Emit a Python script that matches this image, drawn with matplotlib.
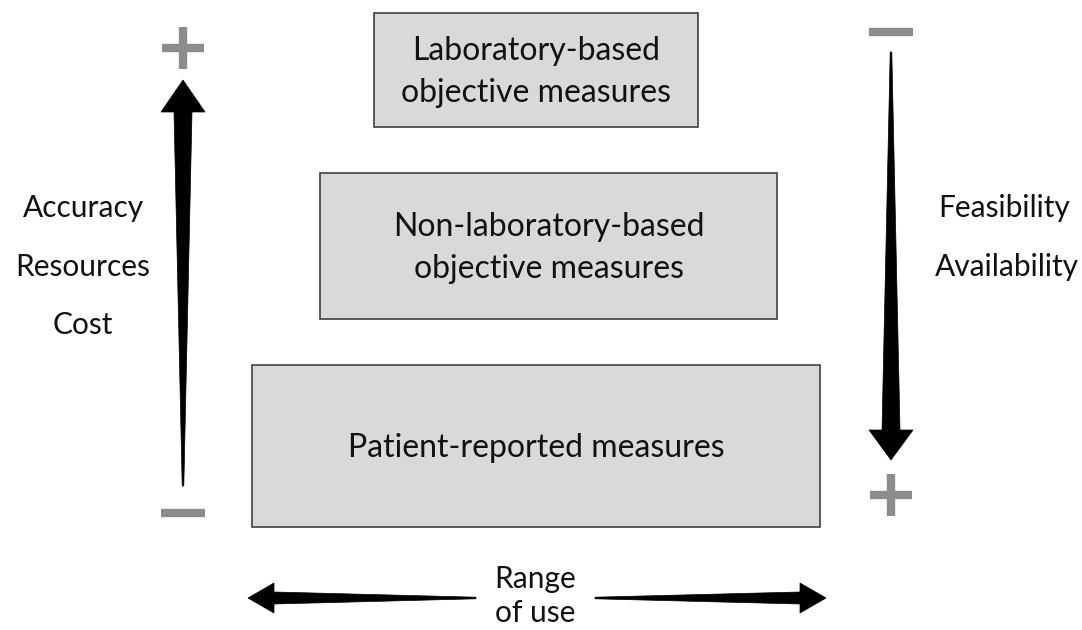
import matplotlib
matplotlib.use("Agg")
import matplotlib.pyplot as plt
from matplotlib.patches import Rectangle, Polygon

plt.rcParams['font.family'] = ['Lato', 'DejaVu Sans']

# tiers of the pyramid, top to bottom
tier_labels = ["Laboratory-based\nobjective measures",
               "Non-laboratory-based\nobjective measures",
               "Patient-reported measures"]
left_labels = ["Accuracy", "Resources", "Cost"]
right_labels = ["Feasibility", "Availability"]
bottom_label = "Range\nof use"

# layout in pixel coordinates (x0, y0, x1, y1), y grows downward
tier_boxes = [(374, 13, 698, 127), (320, 173, 777, 319), (252, 365, 820, 527)]
left_y = [208, 267, 325]
right_x = [1004, 1007]
right_y = [208, 267]

W, H = 1082, 630
fig = plt.figure(figsize=(W / 100, H / 100), dpi=100)
ax = fig.add_axes([0, 0, 1, 1])
ax.set_xlim(0, W)
ax.set_ylim(H, 0)
ax.axis('off')

for (x0, y0, x1, y1), lab in zip(tier_boxes, tier_labels):
    ax.add_patch(Rectangle((x0, y0), x1 - x0, y1 - y0, facecolor='#d9d9d9',
                           edgecolor='#404040', linewidth=1.2))
    ax.text((x0 + x1) / 2, (y0 + y1) / 2 + 2, lab, ha='center', va='center',
            fontsize=23, linespacing=1.5, color='#111111')

for y, lab in zip(left_y, left_labels):
    ax.text(83, y, lab, ha='center', va='center', fontsize=21.5, color='#111111')
for x, y, lab in zip(right_x, right_y, right_labels):
    ax.text(x, y, lab, ha='center', va='center', fontsize=21.5, color='#111111')
ax.text(535, 596, bottom_label, ha='center', va='center', fontsize=21.5,
        linespacing=1.3, color='#111111')


def tapered(cx, thin, head_base, tip, shaft_w=18, head_w=44, vertical=True):
    # shaft tapers from a point at `thin` to shaft_w at head_base, then head to tip
    pts = [(thin, -0.8), (head_base, -shaft_w / 2), (head_base, -head_w / 2),
           (tip, 0), (head_base, head_w / 2), (head_base, shaft_w / 2), (thin, 0.8)]
    if vertical:
        pts = [(cx + d, p) for p, d in pts]
    else:
        pts = [(p, cx + d) for p, d in pts]
    ax.add_patch(Polygon(pts, closed=True, facecolor='black', edgecolor='black', lw=0.5))


tapered(183, 486, 112, 80)
tapered(891, 52, 430, 460)
tapered(598, 476, 274, 248, shaft_w=12, head_w=30, vertical=False)
tapered(598, 595, 800, 826, shaft_w=12, head_w=30, vertical=False)

grey = '#8c8c8c'


def plus(x, y):
    ax.plot([x - 21, x + 21], [y, y], color=grey, lw=6, solid_capstyle='butt')
    ax.plot([x, x], [y - 21, y + 21], color=grey, lw=6, solid_capstyle='butt')


def minus(x, y):
    ax.plot([x - 22, x + 22], [y, y], color=grey, lw=6, solid_capstyle='butt')


plus(183, 48)
minus(183, 513)
minus(891, 32)
plus(891, 495)

fig.savefig('out.png', dpi=100)
